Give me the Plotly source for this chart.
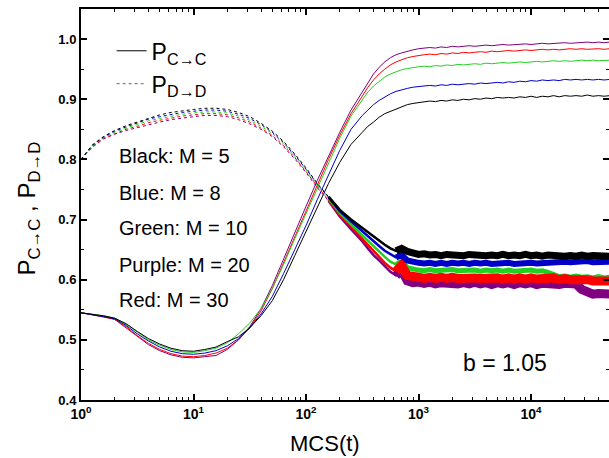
import plotly.graph_objects as go

# ---------------- data ----------------
T = [1, 1.259, 1.585, 1.995, 2.512, 3.162, 3.981, 5.012, 6.310, 7.943,
     10, 12.59, 15.85, 19.95, 25.12, 31.62, 39.81, 50.12, 63.10, 79.43,
     100, 125.9, 158.5, 199.5, 251.2, 316.2, 354.8, 398.1, 446.7, 501.2,
     562.3, 631.0, 707.9, 794.3, 891.3, 1000, 1122, 1259, 1413, 1585,
     1778, 1995, 2239, 2512, 2818, 3162, 3548, 3981, 4467, 5012,
     5623, 6310, 7079, 7943, 8913, 10000, 11220, 12589, 14125, 15849,
     17783, 19953, 22387, 25119, 28184, 31623, 35481, 39811, 44668, 50119]

PCC_BLACK = [0.545, 0.543, 0.540, 0.536, 0.527, 0.514, 0.502, 0.493, 0.486, 0.482,
             0.481, 0.484, 0.488, 0.497, 0.505, 0.520, 0.540, 0.565, 0.600, 0.640,
             0.680, 0.720, 0.760, 0.795, 0.825, 0.845, 0.855, 0.862, 0.870, 0.876,
             0.880, 0.884, 0.888, 0.891, 0.893, 0.894, 0.896, 0.897, 0.896, 0.898,
             0.897, 0.899, 0.898, 0.900, 0.899, 0.901, 0.900, 0.902, 0.901, 0.903,
             0.902, 0.903, 0.902, 0.904, 0.903, 0.905, 0.903, 0.905, 0.904, 0.906,
             0.904, 0.906, 0.905, 0.906, 0.905, 0.907, 0.905, 0.906, 0.905, 0.906]
PCC_BLUE = [0.545, 0.542, 0.539, 0.535, 0.524, 0.510, 0.498, 0.488, 0.481, 0.477,
            0.476, 0.478, 0.482, 0.490, 0.502, 0.520, 0.543, 0.572, 0.610, 0.650,
            0.690, 0.733, 0.775, 0.815, 0.850, 0.873, 0.882, 0.891, 0.898, 0.904,
            0.909, 0.913, 0.916, 0.918, 0.920, 0.921, 0.922, 0.923, 0.922, 0.924,
            0.923, 0.925, 0.924, 0.925, 0.926, 0.925, 0.927, 0.926, 0.927, 0.928,
            0.927, 0.929, 0.928, 0.930, 0.929, 0.931, 0.930, 0.932, 0.931, 0.932,
            0.931, 0.933, 0.932, 0.933, 0.932, 0.933, 0.932, 0.933, 0.932, 0.933]
PCC_GREEN = [0.545, 0.543, 0.540, 0.536, 0.526, 0.513, 0.500, 0.491, 0.484, 0.480,
             0.479, 0.482, 0.486, 0.495, 0.510, 0.528, 0.552, 0.585, 0.625, 0.668,
             0.710, 0.752, 0.795, 0.835, 0.872, 0.900, 0.912, 0.922, 0.930, 0.937,
             0.942, 0.946, 0.949, 0.951, 0.953, 0.954, 0.955, 0.954, 0.956, 0.955,
             0.957, 0.956, 0.958, 0.957, 0.958, 0.959, 0.958, 0.960, 0.959, 0.960,
             0.961, 0.960, 0.961, 0.962, 0.961, 0.962, 0.963, 0.962, 0.963, 0.964,
             0.963, 0.964, 0.963, 0.964, 0.965, 0.964, 0.965, 0.964, 0.965, 0.965]
PCC_PURPLE = [0.545, 0.542, 0.539, 0.534, 0.520, 0.505, 0.492, 0.482, 0.475, 0.471,
              0.470, 0.472, 0.474, 0.484, 0.500, 0.522, 0.552, 0.590, 0.635, 0.680,
              0.722, 0.765, 0.805, 0.845, 0.882, 0.912, 0.928, 0.942, 0.953, 0.962,
              0.969, 0.974, 0.977, 0.980, 0.982, 0.984, 0.985, 0.986, 0.985, 0.987,
              0.986, 0.988, 0.987, 0.988, 0.989, 0.988, 0.989, 0.990, 0.989, 0.990,
              0.991, 0.990, 0.991, 0.991, 0.992, 0.991, 0.992, 0.993, 0.992, 0.993,
              0.993, 0.994, 0.993, 0.994, 0.994, 0.995, 0.994, 0.995, 0.994, 0.995]
PCC_RED = [0.545, 0.542, 0.538, 0.534, 0.522, 0.507, 0.494, 0.484, 0.477, 0.473,
           0.472, 0.474, 0.478, 0.486, 0.500, 0.520, 0.548, 0.585, 0.628, 0.672,
           0.715, 0.758, 0.800, 0.840, 0.876, 0.905, 0.920, 0.932, 0.942, 0.950,
           0.957, 0.962, 0.966, 0.969, 0.971, 0.973, 0.974, 0.975, 0.974, 0.976,
           0.975, 0.977, 0.976, 0.978, 0.977, 0.978, 0.979, 0.978, 0.980, 0.979,
           0.980, 0.981, 0.980, 0.981, 0.982, 0.981, 0.982, 0.983, 0.982, 0.983,
           0.982, 0.983, 0.984, 0.983, 0.984, 0.983, 0.984, 0.984, 0.983, 0.984]

PDD_BLACK = [0.800, 0.824, 0.838, 0.848, 0.856, 0.862, 0.869, 0.874, 0.878, 0.881,
             0.883, 0.885, 0.885, 0.883, 0.878, 0.871, 0.860, 0.847, 0.830, 0.809,
             0.786, 0.760, 0.738, 0.716, 0.700, 0.686, 0.678, 0.671, 0.664, 0.658,
             0.652, 0.648, 0.652, 0.647, 0.644, 0.642, 0.643, 0.641, 0.642, 0.640,
             0.642, 0.641, 0.642, 0.640, 0.642, 0.641, 0.642, 0.640, 0.641, 0.640,
             0.642, 0.640, 0.641, 0.640, 0.642, 0.640, 0.641, 0.639, 0.641, 0.640,
             0.641, 0.639, 0.640, 0.639, 0.641, 0.639, 0.640, 0.639, 0.640, 0.639]
PDD_BLUE = [0.800, 0.823, 0.837, 0.847, 0.854, 0.860, 0.867, 0.871, 0.875, 0.878,
            0.880, 0.882, 0.882, 0.880, 0.875, 0.868, 0.858, 0.845, 0.828, 0.807,
            0.784, 0.759, 0.737, 0.714, 0.697, 0.680, 0.672, 0.663, 0.656, 0.648,
            0.642, 0.637, 0.641, 0.632, 0.629, 0.628, 0.627, 0.628, 0.626, 0.628,
            0.626, 0.628, 0.627, 0.628, 0.626, 0.628, 0.627, 0.628, 0.626, 0.627,
            0.626, 0.628, 0.626, 0.627, 0.626, 0.628, 0.627, 0.628, 0.628, 0.630,
            0.629, 0.630, 0.629, 0.630, 0.629, 0.631, 0.629, 0.630, 0.629, 0.630]
PDD_GREEN = [0.800, 0.822, 0.836, 0.845, 0.852, 0.858, 0.864, 0.868, 0.872, 0.875,
             0.877, 0.879, 0.879, 0.877, 0.872, 0.865, 0.855, 0.843, 0.826, 0.805,
             0.782, 0.757, 0.735, 0.711, 0.692, 0.674, 0.664, 0.655, 0.646, 0.638,
             0.630, 0.625, 0.631, 0.620, 0.617, 0.616, 0.615, 0.617, 0.615, 0.616,
             0.615, 0.617, 0.615, 0.616, 0.615, 0.616, 0.614, 0.616, 0.615, 0.616,
             0.614, 0.616, 0.614, 0.615, 0.614, 0.616, 0.614, 0.615, 0.612, 0.608,
             0.605, 0.606, 0.604, 0.606, 0.604, 0.605, 0.603, 0.605, 0.603, 0.604]
PDD_PURPLE = [0.800, 0.820, 0.834, 0.842, 0.848, 0.853, 0.858, 0.862, 0.866, 0.869,
              0.871, 0.873, 0.873, 0.871, 0.866, 0.859, 0.850, 0.838, 0.821, 0.801,
              0.778, 0.753, 0.731, 0.705, 0.684, 0.664, 0.652, 0.641, 0.632, 0.622,
              0.613, 0.607, 0.616, 0.598, 0.595, 0.596, 0.594, 0.596, 0.593, 0.595,
              0.594, 0.596, 0.593, 0.595, 0.593, 0.596, 0.593, 0.595, 0.592, 0.595,
              0.593, 0.595, 0.592, 0.595, 0.593, 0.595, 0.592, 0.594, 0.593, 0.595,
              0.592, 0.594, 0.593, 0.593, 0.584, 0.578, 0.576, 0.577, 0.575, 0.576]
PDD_RED = [0.800, 0.821, 0.835, 0.843, 0.850, 0.855, 0.861, 0.865, 0.869, 0.872,
           0.874, 0.876, 0.876, 0.874, 0.869, 0.862, 0.852, 0.840, 0.823, 0.803,
           0.780, 0.755, 0.733, 0.708, 0.688, 0.668, 0.657, 0.647, 0.638, 0.628,
           0.620, 0.614, 0.624, 0.607, 0.604, 0.604, 0.602, 0.604, 0.602, 0.604,
           0.602, 0.604, 0.602, 0.603, 0.601, 0.603, 0.602, 0.603, 0.601, 0.603,
           0.601, 0.603, 0.601, 0.603, 0.601, 0.603, 0.601, 0.602, 0.601, 0.603,
           0.600, 0.602, 0.600, 0.601, 0.599, 0.600, 0.598, 0.599, 0.597, 0.598]

SERIES_NAMES = ["Black: M = 5", "Blue: M = 8", "Green: M = 10", "Purple: M = 20", "Red: M = 30"]
X_TICKVALS = [1, 10, 100, 1000, 10000]
X_TICKTEXT = ["10<sup>0</sup>", "10<sup>1</sup>", "10<sup>2</sup>", "10<sup>3</sup>", "10<sup>4</sup>"]

# ---------------- styling ----------------
COL = {"black": "#000000", "blue": "#0000C8", "green": "#22D022",
       "purple": "#800080", "red": "#FF0000"}
PCC = {"black": PCC_BLACK, "blue": PCC_BLUE, "green": PCC_GREEN,
       "purple": PCC_PURPLE, "red": PCC_RED}
PDD = {"black": PDD_BLACK, "blue": PDD_BLUE, "green": PDD_GREEN,
       "purple": PDD_PURPLE, "red": PDD_RED}
MID = (22, 33)        # index range drawn as a thin noisy band
TAIL_START = 31       # index from which the dense band is drawn
MID_W = 2.5
TAIL_W = {"purple": 9, "green": 5, "red": 9, "blue": 6, "black": 7}

FONT = "Liberation Sans"
fig = go.Figure()

# P_C->C solid thin lines
for key in ["purple", "red", "green", "blue", "black"]:
    fig.add_trace(go.Scatter(x=T, y=PCC[key], mode="lines", showlegend=False,
                             line=dict(color=COL[key], width=1), hoverinfo="skip"))
# P_D->D dotted lines
for key in ["purple", "red", "green", "blue", "black"]:
    fig.add_trace(go.Scatter(x=T, y=PDD[key], mode="lines", showlegend=False,
                             line=dict(color=COL[key], width=1, dash="dot"), hoverinfo="skip"))
# transition segment
for key in ["purple", "red", "green", "blue", "black"]:
    fig.add_trace(go.Scatter(x=T[MID[0]:MID[1]], y=PDD[key][MID[0]:MID[1]], mode="lines",
                             showlegend=False, hoverinfo="skip",
                             line=dict(color=COL[key], width=MID_W)))
# dense noisy tails of P_D->D
for key in ["purple", "green", "red", "blue", "black"]:
    fig.add_trace(go.Scatter(x=T[TAIL_START:], y=PDD[key][TAIL_START:], mode="lines",
                             showlegend=False, hoverinfo="skip",
                             line=dict(color=COL[key], width=TAIL_W[key])))

# legend entries
fig.add_trace(go.Scatter(x=[None], y=[None], mode="lines", name="P<sub>C\u2192C</sub>",
                         legendgroup="a", line=dict(color="black", width=1)))
fig.add_trace(go.Scatter(x=[None], y=[None], mode="lines", name="P<sub>D\u2192D</sub>",
                         legendgroup="a", line=dict(color="#666666", width=1, dash="dot")))
# right-side tick axis
fig.add_trace(go.Scatter(x=[None], y=[None], yaxis="y2", showlegend=False, hoverinfo="skip"))

minor_x = [m * 10 ** k for k in range(5) for m in range(2, 10)]

fig.update_layout(
    width=609, height=458,
    margin=dict(l=81, r=0, t=9, b=58),
    paper_bgcolor="white", plot_bgcolor="white",
    font=dict(family=FONT, color="black"),
    xaxis=dict(type="log", range=[0, 4.693], tickvals=X_TICKVALS, ticktext=X_TICKTEXT,
               ticks="inside", ticklen=6, tickwidth=1.5, tickcolor="black",
               showline=True, linewidth=2, linecolor="black", mirror="ticks",
               showgrid=False, zeroline=False,
               tickfont=dict(size=14, family=FONT, weight="bold", color="black"),
               minor=dict(tickvals=minor_x, ticks="inside", ticklen=3, tickwidth=1.2,
                          tickcolor="black", showgrid=False)),
    yaxis=dict(range=[0.4, 1.05], tick0=0.4, dtick=0.1, tickformat=".1f",
               ticks="inside", ticklen=6, tickwidth=1.5, tickcolor="black",
               showline=True, linewidth=2, linecolor="black", mirror=False,
               showgrid=False, zeroline=False,
               tickfont=dict(size=13, family=FONT, weight="bold", color="black"),
               minor=dict(dtick=0.05, ticks="inside", ticklen=3, tickwidth=1.2,
                          tickcolor="black", showgrid=False)),
    yaxis2=dict(overlaying="y", side="right", anchor="x", range=[0.4, 1.05],
                tick0=0.4, dtick=0.1, ticks="inside", ticklen=6, tickwidth=1.5,
                tickcolor="black", showticklabels=False, showline=False,
                showgrid=False, zeroline=False,
                minor=dict(dtick=0.05, ticks="inside", ticklen=3, tickwidth=1.2,
                           tickcolor="black", showgrid=False)),
    showlegend=True,
    legend=dict(x=0.058, y=0.948, xanchor="left", yanchor="top",
                bgcolor="rgba(0,0,0,0)", borderwidth=0, tracegroupgap=0,
                font=dict(family=FONT, size=23, color="black")),
)

ann = []
label_y = [0.624, 0.529, 0.440, 0.345, 0.256]
for txt, yy in zip(SERIES_NAMES, label_y):
    ann.append(dict(text=txt, x=0.068, y=yy, xref="paper", yref="paper",
                    xanchor="left", yanchor="middle", showarrow=False,
                    font=dict(family=FONT, size=20, color="black")))
ann.append(dict(text="b = 1.05", x=0.803, y=0.095, xref="paper", yref="paper",
                xanchor="center", yanchor="middle", showarrow=False,
                font=dict(family=FONT, size=23, color="black")))
ann.append(dict(text="MCS(t)", x=0.462, y=-0.11, xref="paper", yref="paper",
                xanchor="center", yanchor="middle", showarrow=False,
                font=dict(family=FONT, size=22, color="black")))
ann.append(dict(text="P<sub>C\u2192C</sub> , P<sub>D\u2192D</sub>", x=-0.1, y=0.49,
                xref="paper", yref="paper", xanchor="center", yanchor="middle",
                textangle=-90, showarrow=False,
                font=dict(family=FONT, size=24, color="black")))
fig.update_layout(annotations=ann)

fig.write_html("out.html")
